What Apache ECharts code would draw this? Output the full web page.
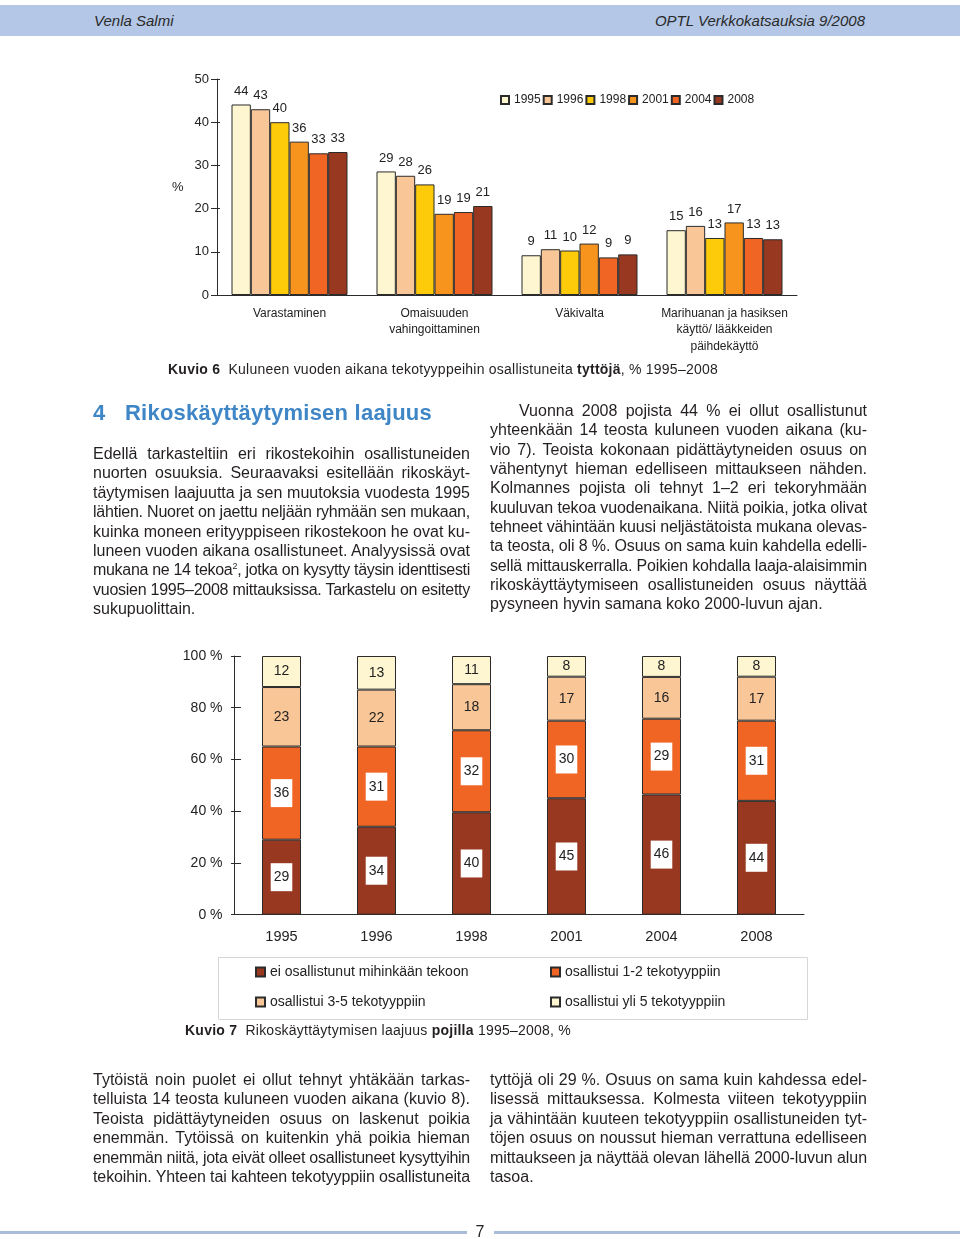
<!DOCTYPE html>
<html>
<head>
<meta charset="utf-8">
<script src="https://cdn.jsdelivr.net/npm/echarts@6/dist/echarts.min.js"></script>
<style>
  html, body { margin:0; padding:0; background:#fff; }
  #page { position:relative; width:960px; height:1239px; overflow:hidden; font-family:"Liberation Sans", Arial, Helvetica, sans-serif; color:#231f20; }
  #chart { position:absolute; left:0; top:0; width:960px; height:1239px; }
  .ln { position:absolute; white-space:nowrap; font-size:16px; line-height:20px; }
  .ln sup { font-size:9px; line-height:0; vertical-align:6px; }
  #header { position:absolute; left:0; top:5px; width:960px; height:31px; background:#b4c7e6; }
  .hd { position:absolute; top:0; line-height:31px; font-size:15px; font-style:italic; color:#2a2a2a; }
  .rule { position:absolute; height:3px; background:#a9bcda; top:1231px; }
</style>
</head>
<body>
<div id="page">
  <div id="chart"></div>
  <div id="header">
    <div class="hd" style="left:94px;">Venla Salmi</div>
    <div class="hd" style="right:95px;">OPTL Verkkokatsauksia 9/2008</div>
  </div>
  <div class="rule" style="left:0; width:467px;"></div>
  <div class="rule" style="left:494px; width:466px;"></div>
  <div class="ln" style="left:475px; top:1222px; width:10px; text-align:center;">7</div>
</div>
<script>
// ---------- Kuvio 6 data (girls, %) ----------
const crimeCategories = ['Varastaminen', 'Omaisuuden\nvahingoittaminen', 'Väkivalta', 'Marihuanan ja hasiksen\nkäyttö/ lääkkeiden\npäihdekäyttö'];
const surveyYears = ['1995', '1996', '1998', '2001', '2004', '2008'];
const girls1995 = [44.1, 28.6, 9.2, 15.0];
const girls1996 = [43.0, 27.6, 10.6, 16.0];
const girls1998 = [40.0, 25.6, 10.3, 13.2];
const girls2001 = [35.5, 18.8, 11.9, 16.8];
const girls2004 = [32.8, 19.2, 8.7, 13.2];
const girls2008 = [33.1, 20.6, 9.4, 12.9];
const yTicks1 = [0, 10, 20, 30, 40, 50];

// ---------- Kuvio 7 data (boys, %) ----------
const boysYears = ['1995', '1996', '1998', '2001', '2004', '2008'];
const groupNames = ['ei osallistunut mihinkään tekoon', 'osallistui 1-2 tekotyyppiin', 'osallistui 3-5 tekotyyppiin', 'osallistui yli 5 tekotyyppiin'];
const noneShare = [29, 34, 40, 45, 46, 44];
const oneTwoShare = [36, 31, 32, 30, 29, 31];
const threeFiveShare = [23, 22, 18, 17, 16, 17];
const overFiveShare = [12, 13, 11, 8, 8, 8];
const yTicks2 = [0, 20, 40, 60, 80, 100];

const colors1 = ['#fdf6d0', '#f9c797', '#fecb0b', '#f7941e', '#f06523', '#983821'];
const colors2 = ['#983821', '#f06523', '#f9c797', '#fdf6d0'];
const FONT = '"Liberation Sans", Arial, Helvetica, sans-serif';
const INK = '#222';

const girlsData = [girls1995, girls1996, girls1998, girls2001, girls2004, girls2008];
const boysData = [noneShare, oneTwoShare, threeFiveShare, overFiveShare];
const totals = boysYears.map((_, i) => boysData.reduce((s, arr) => s + arr[i], 0));

const series = [];
surveyYears.forEach((y, i) => {
  series.push({
    type: 'bar', name: y, xAxisIndex: 0, yAxisIndex: 0,
    data: girlsData[i], barGap: '0%', barCategoryGap: '20%',
    itemStyle: { color: colors1[i], borderColor: '#2b2b2b', borderWidth: 1 },
    label: { show: true, position: 'top', distance: 7, fontSize: 13, color: INK, fontFamily: FONT,
      formatter: p => Math.round(p.value) },
    emphasis: { disabled: true }
  });
});
groupNames.forEach((g, k) => {
  const boxed = k < 2;
  series.push({
    type: 'bar', name: g, xAxisIndex: 1, yAxisIndex: 2, stack: 'boys', barWidth: 39,
    data: boysData[k].map((v, i) => ({ value: v / totals[i] * 100, raw: v })),
    itemStyle: { color: colors2[k], borderColor: '#2b2b2b', borderWidth: 1 },
    label: Object.assign({ show: true, position: 'inside', fontSize: 14, color: INK, fontFamily: FONT,
      lineHeight: 14, formatter: p => p.data.raw },
      boxed ? { backgroundColor: '#fff', padding: [7, 3] } : {}),
    emphasis: { disabled: true }
  });
});

const axisLine = { show: true, lineStyle: { color: '#2b2b2b', width: 1 } };
const option = {
  animation: false,
  textStyle: { fontFamily: FONT },
  grid: [
    { left: 217, top: 79, width: 580, height: 216, outerBoundsMode: 'none' },
    { left: 234, top: 656, width: 570, height: 258.7, outerBoundsMode: 'none' }
  ],
  xAxis: [
    { gridIndex: 0, type: 'category', data: crimeCategories, axisLine: axisLine, axisTick: { show: false },
      axisLabel: { interval: 0, fontSize: 12, color: INK, margin: 10, lineHeight: 16.5, fontFamily: FONT } },
    { gridIndex: 1, type: 'category', data: boysYears, axisLine: axisLine, axisTick: { show: false },
      axisLabel: { interval: 0, fontSize: 14.5, color: INK, margin: 15, fontFamily: FONT } }
  ],
  yAxis: [
    { gridIndex: 0, type: 'value', position: 'left', min: yTicks1[0], max: yTicks1[yTicks1.length - 1], interval: 10,
      axisLine: axisLine, axisTick: { show: true, length: 6, lineStyle: { color: '#2b2b2b' } },
      axisLabel: { fontSize: 13, color: INK, margin: 8, fontFamily: FONT }, splitLine: { show: false } },
    { gridIndex: 0, type: 'value', position: 'left', offset: 0, min: yTicks1[0], max: yTicks1[yTicks1.length - 1], interval: 10,
      axisLine: { show: false }, axisTick: { show: true, inside: true, length: 3, lineStyle: { color: '#2b2b2b' } },
      axisLabel: { show: false }, splitLine: { show: false } },
    { gridIndex: 1, type: 'value', position: 'left', min: yTicks2[0], max: yTicks2[yTicks2.length - 1], interval: 20,
      axisLine: axisLine, axisTick: { show: true, length: 3, lineStyle: { color: '#2b2b2b' } },
      axisLabel: { fontSize: 14, color: INK, margin: 11.5, formatter: '{value} %', fontFamily: FONT }, splitLine: { show: false } },
    { gridIndex: 1, type: 'value', position: 'left', offset: 0, min: yTicks2[0], max: yTicks2[yTicks2.length - 1], interval: 20,
      axisLine: { show: false }, axisTick: { show: true, inside: true, length: 7, lineStyle: { color: '#2b2b2b' } },
      axisLabel: { show: false }, splitLine: { show: false } }
  ],
  legend: [
    { data: surveyYears, left: 500, top: 94, padding: 0, itemWidth: 8, itemHeight: 8, itemGap: 2,
      icon: 'rect', selectedMode: false, textStyle: { fontSize: 12, color: INK, fontFamily: FONT } },
    { data: [groupNames[0], groupNames[2]], orient: 'vertical', left: 255, top: 965, padding: 0,
      itemWidth: 9, itemHeight: 9, itemGap: 16, icon: 'rect', selectedMode: false,
      textStyle: { fontSize: 14, color: INK, fontFamily: FONT } },
    { data: [groupNames[1], groupNames[3]], orient: 'vertical', left: 550, top: 965, padding: 0,
      itemWidth: 9, itemHeight: 9, itemGap: 16, icon: 'rect', selectedMode: false,
      textStyle: { fontSize: 14, color: INK, fontFamily: FONT } }
  ],
  graphic: [
    { type: 'text', left: 172, top: 181, style: { text: '%', fontSize: 13, fill: INK, fontFamily: FONT } },
    { type: 'rect', shape: { x: 218.5, y: 957.5, width: 589, height: 62 }, style: { fill: 'none', stroke: '#d6d6d6', lineWidth: 1 }, z: 0 }
  ],
  series: series
};
const chart = echarts.init(document.getElementById('chart'), null, { renderer: 'canvas' });
chart.setOption(option);

// ---------- text ----------
const page = document.getElementById('page');
function line(html, x, yc, w, mode, extra) {
  const d = document.createElement('div');
  d.className = 'ln';
  d.style.left = x + 'px';
  d.style.top = (yc - 10) + 'px';
  const s = document.createElement('span');
  s.innerHTML = html;
  if (extra) Object.assign(s.style, extra);
  d.appendChild(s);
  page.appendChild(d);
  const nat = s.getBoundingClientRect().width;
  const txt = s.textContent;
  if (w && mode) {
    if (mode === 'stretch') {
      s.style.letterSpacing = ((w - nat) / txt.length) + 'px';
    } else if (nat > w) {
      s.style.letterSpacing = ((w - nat) / txt.length) + 'px';
    } else if (mode === 'justify') {
      const sp = (txt.match(/ /g) || []).length;
      if (sp) s.style.wordSpacing = ((w - nat) / sp) + 'px';
    }
  }
  return s;
}
function para(lines, x, y0, lh, w, firstIndent, lastJustified) {
  lines.forEach((t, i) => {
    const ind = i === 0 ? (firstIndent || 0) : 0;
    const isLast = i === lines.length - 1;
    line(t, x + ind, y0 + i * lh, w - ind, (isLast && !lastJustified) ? 'fit' : 'justify');
  });
}

// heading
line('4', 93, 413, 0, null, { fontSize: '22px', fontWeight: 'bold', color: '#3f86c6' });
line('Rikoskäyttäytymisen laajuus', 125, 413, 307, 'stretch', { fontSize: '22px', fontWeight: 'bold', color: '#3f86c6' });

para([
  'Edellä tarkasteltiin eri rikostekoihin osallistuneiden',
  'nuorten osuuksia. Seuraavaksi esitellään rikoskäyt-',
  'täytymisen laajuutta ja sen muutoksia vuodesta 1995',
  'lähtien. Nuoret on jaettu neljään ryhmään sen mukaan,',
  'kuinka moneen erityyppiseen rikostekoon he ovat ku-',
  'luneen vuoden aikana osallistuneet. Analyysissä ovat',
  'mukana ne 14 tekoa<sup>2</sup>, jotka on kysytty täysin identtisesti',
  'vuosien 1995–2008 mittauksissa. Tarkastelu on esitetty',
  'sukupuolittain.'
], 93, 454, 19.4, 377, 0, false);

para([
  'Vuonna 2008 pojista 44 % ei ollut osallistunut',
  'yhteenkään 14 teosta kuluneen vuoden aikana (ku-',
  'vio 7). Teoista kokonaan pidättäytyneiden osuus on',
  'vähentynyt hieman edelliseen mittaukseen nähden.',
  'Kolmannes pojista oli tehnyt 1–2 eri tekoryhmään',
  'kuuluvan tekoa vuodenaikana. Niitä poikia, jotka olivat',
  'tehneet vähintään kuusi neljästätoista mukana olevas-',
  'ta teosta, oli 8 %. Osuus on sama kuin kahdella edelli-',
  'sellä mittauskerralla. Poikien kohdalla laaja-alaisimmin',
  'rikoskäyttäytymiseen osallistuneiden osuus näyttää',
  'pysyneen hyvin samana koko 2000-luvun ajan.'
], 490, 411, 19.33, 377, 29, false);

para([
  'Tytöistä noin puolet ei ollut tehnyt yhtäkään tarkas-',
  'telluista 14 teosta kuluneen vuoden aikana (kuvio 8).',
  'Teoista pidättäytyneiden osuus on laskenut poikia',
  'enemmän. Tytöissä on kuitenkin yhä poikia hieman',
  'enemmän niitä, jota eivät olleet osallistuneet kysyttyihin',
  'tekoihin. Yhteen tai kahteen tekotyyppiin osallistuneita'
], 93, 1080, 19.4, 377, 0, true);

para([
  'tyttöjä oli 29 %. Osuus on sama kuin kahdessa edel-',
  'lisessä mittauksessa. Kolmesta viiteen tekotyyppiin',
  'ja vähintään kuuteen tekotyyppiin osallistuneiden tyt-',
  'töjen osuus on noussut hieman verrattuna edelliseen',
  'mittaukseen ja näyttää olevan lähellä 2000-luvun alun',
  'tasoa.'
], 490, 1080, 19.4, 377, 0, false);

// captions
line('<b>Kuvio 6</b>&nbsp; Kuluneen vuoden aikana tekotyyppeihin osallistuneita <b>tyttöjä</b>, % 1995–2008', 168, 369, 550, 'stretch', { fontSize: '14px' });
line('<b>Kuvio 7</b>&nbsp; Rikoskäyttäytymisen laajuus <b>pojilla</b> 1995–2008, %', 185, 1030, 386, 'stretch', { fontSize: '14px' });
</script>
</body>
</html>
